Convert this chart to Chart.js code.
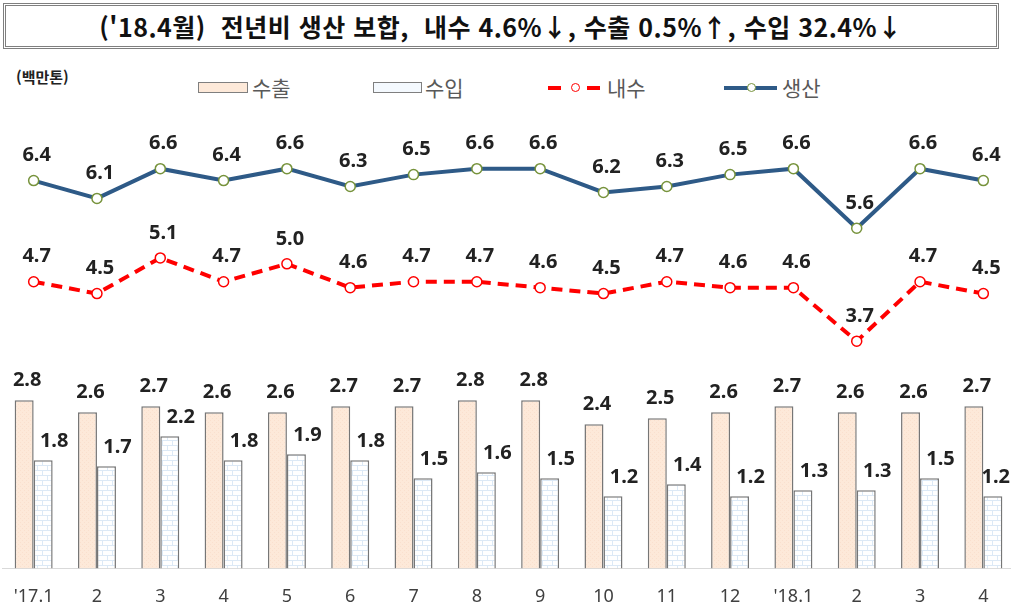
<!DOCTYPE html>
<html lang="ko">
<head>
<meta charset="utf-8">
<title>철강 수급 동향</title>
<script src="https://cdn.jsdelivr.net/npm/chart.js@4.4.1/dist/chart.umd.min.js"></script>
<style>
    body { margin: 0; background: #fff; overflow: hidden; width: 1011px; height: 612px; position: relative; font-family: "Noto Sans CJK KR", "Noto Sans", sans-serif; }
    #title {
        position: absolute; left: 3px; top: 3px; width: 996px; height: 46px; box-sizing: border-box;
        border: 3px double #7f7f7f; text-align: center; line-height: 40px;
        font-size: 25px; font-weight: bold; color: #111; white-space: pre; letter-spacing: 0.5px;
    }
    #unit { position: absolute; left: 16px; top: 66px; font-size: 15px; font-weight: bold; color: #222; }
    .leg { position: absolute; top: 75px; font-size: 21px; color: #595959; line-height: 24px; }
    .box { position: absolute; top: 82px; height: 11px; box-sizing: border-box; border: 1.5px solid #7f7f7f; }
    .seg { position: absolute; height: 4px; top: 86px; }
    .dot { position: absolute; top: 83px; width: 9px; height: 9px; box-sizing: border-box; border-radius: 50%; background: #fff; }
    #chart { position: absolute; left: 2px; top: 100px; }
</style>
</head>
<body>
<div id="title">('18.4월)  전년비 생산 보합,  내수 4.6%↓, 수출 0.5%↑, 수입 32.4%↓</div>
<div id="unit">(백만톤)</div>

<!-- legend -->
<div class="box" style="left:198px; width:50px; background:#fde9d9;"></div>
<div class="leg" style="left:252px;">수출</div>
<div class="box" style="left:373px; width:49px; background:#f4f9fe;"></div>
<div class="leg" style="left:425px;">수입</div>
<div class="seg" style="left:548px; width:13px; background:#ff0000;"></div>
<div class="dot" style="left:571px; border:1.5px solid #ff0000;"></div>
<div class="seg" style="left:587px; width:13px; background:#ff0000;"></div>
<div class="leg" style="left:607px;">내수</div>
<div class="seg" style="left:724px; width:53px; background:#2e5a87;"></div>
<div class="dot" style="left:747px; border:1.5px solid #77933c;"></div>
<div class="leg" style="left:782px;">생산</div>

<canvas id="chart" width="1013" height="526"></canvas>

<script>
// 월별 철강 수급 (백만톤)
const months = ["'17.1", "2", "3", "4", "5", "6", "7", "8", "9", "10", "11", "12", "'18.1", "2", "3", "4"];
const exportVals = [2.8, 2.6, 2.7, 2.6, 2.6, 2.7, 2.7, 2.8, 2.8, 2.4, 2.5, 2.6, 2.7, 2.6, 2.6, 2.7];
const importVals = [1.8, 1.7, 2.2, 1.8, 1.9, 1.8, 1.5, 1.6, 1.5, 1.2, 1.4, 1.2, 1.3, 1.3, 1.5, 1.2];
const domesticVals = [4.7, 4.5, 5.1, 4.7, 5.0, 4.6, 4.7, 4.7, 4.6, 4.5, 4.7, 4.6, 4.6, 3.7, 4.7, 4.5];
const productionVals = [6.4, 6.1, 6.6, 6.4, 6.6, 6.3, 6.5, 6.6, 6.6, 6.2, 6.3, 6.5, 6.6, 5.6, 6.6, 6.4];

// fill patterns for the bars
function makePattern(draw, w, h) {
    const c = document.createElement("canvas");
    c.width = w;
    c.height = h;
    draw(c.getContext("2d"));
    return c.getContext("2d").createPattern(c, "repeat");
}
const ctx = document.getElementById("chart").getContext("2d");
const peachFill = makePattern(function (p) {
    p.fillStyle = "#fde9d9";
    p.fillRect(0, 0, 4, 4);
    p.fillStyle = "#fae0ce";
    p.fillRect(0, 0, 1, 1);
    p.fillRect(2, 2, 1, 1);
}, 4, 4);
const brickFill = makePattern(function (p) {
    p.fillStyle = "#ffffff";
    p.fillRect(0, 0, 10, 10);
    p.strokeStyle = "#dce9f6";
    p.lineWidth = 1;
    p.beginPath();
    p.moveTo(0, 0.5); p.lineTo(10, 0.5);
    p.moveTo(0, 5.5); p.lineTo(10, 5.5);
    p.moveTo(0.5, 0); p.lineTo(0.5, 5);
    p.moveTo(5.5, 5); p.lineTo(5.5, 10);
    p.stroke();
}, 10, 10);

// value labels above bars and points
const labelOffsets = {
    "수출": { dx: 3, dy: 20 },
    "수입": { dx: 11, dy: 19 },
    "내수": { dx: 3, dy: 25 },
    "생산": { dx: 3, dy: 25 }
};
const valueLabels = {
    id: "valueLabels",
    afterDatasetsDraw(chart) {
        const c = chart.ctx;
        c.save();
        c.font = "bold 20px 'Noto Sans', sans-serif";
        c.fillStyle = "#222";
        c.textAlign = "center";
        c.textBaseline = "middle";
        chart.data.datasets.forEach(function (ds, i) {
            const off = labelOffsets[ds.label];
            const meta = chart.getDatasetMeta(i);
            meta.data.forEach(function (el, j) {
                const txt = ds.data[j].toFixed(1);
                const w = c.measureText(txt).width;
                let x = el.x + off.dx;
                if (x + w / 2 > chart.width - 5) x = chart.width - 5 - w / 2;
                c.fillText(txt, x, el.y - off.dy);
            });
        });
        c.restore();
    }
};

new Chart(ctx, {
    data: {
        labels: months,
        datasets: [
            {
                type: "bar", label: "수출", data: exportVals, yAxisID: "y",
                backgroundColor: peachFill, borderColor: "#767676", borderWidth: 1.5,
                barPercentage: 1, categoryPercentage: 0.6, order: 2
            },
            {
                type: "bar", label: "수입", data: importVals, yAxisID: "y",
                backgroundColor: brickFill, borderColor: "#767676", borderWidth: 1.5,
                barPercentage: 1, categoryPercentage: 0.6, order: 3
            },
            {
                type: "line", label: "내수", data: domesticVals, yAxisID: "y1",
                borderColor: "#ff0000", borderWidth: 4, borderDash: [11, 7],
                pointRadius: 5, pointBorderWidth: 1.5, pointBackgroundColor: "#fff",
                pointBorderColor: "#ff0000", tension: 0, order: 1
            },
            {
                type: "line", label: "생산", data: productionVals, yAxisID: "y1",
                borderColor: "#2e5a87", borderWidth: 4,
                pointRadius: 5, pointBorderWidth: 1.5, pointBackgroundColor: "#fff",
                pointBorderColor: "#77933c", tension: 0, order: 0
            }
        ]
    },
    options: {
        responsive: false,
        animation: false,
        devicePixelRatio: 1,
        // no automatic padding for point overflow: categories use the full width
        layout: { autoPadding: false, padding: { top: 8, left: 0, right: 0, bottom: 0 } },
        plugins: {
            legend: { display: false },
            tooltip: { enabled: false }
        },
        scales: {
            x: {
                grid: { display: false, drawTicks: false },
                border: { display: true, color: "#d9d9d9", width: 1 },
                ticks: {
                    color: "#404040", padding: 18,
                    font: { family: "'Noto Sans', sans-serif", size: 18 }
                },
                // the first tick label would otherwise push the plot to the right
                afterFit(scale) {
                    scale.paddingLeft = 0;
                    scale.paddingRight = 0;
                }
            },
            y: { display: false, min: 0, max: 7.67 },
            y1: { display: false, min: -0.12, max: 7.62 }
        }
    },
    plugins: [valueLabels]
});
</script>
</body>
</html>
